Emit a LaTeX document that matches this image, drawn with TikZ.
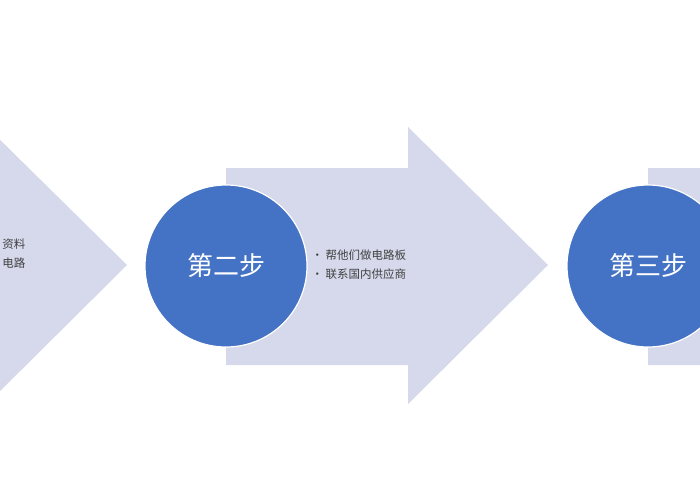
\documentclass[tikz,border=0pt]{standalone}
\usepackage{fontspec}
\setmainfont{Noto Sans CJK SC}
\begin{document}
\begin{tikzpicture}[x=1pt,y=-1pt,
  arr/.style={fill=arrowc,draw=none},
  circ/.style={circle,fill=circc,draw=white,line width=1.2pt,minimum size=162pt,text=white,font=\fontsize{26}{30}\selectfont},
  txt/.style={text=textc,font=\fontsize{11.5}{19}\selectfont,align=left}]
\definecolor{arrowc}{HTML}{D5D9EB}
\definecolor{circc}{HTML}{4472C4}
\definecolor{textc}{HTML}{404040}
\useasboundingbox (0,0) rectangle (700,500);
\clip (0,0) rectangle (700,500);
\fill[white] (0,0) rectangle (700,500);
% left arrow
\fill[arr] (-200,168) -- (-13,168) -- (-13,127) -- (127,265) -- (-13,404) -- (-13,365) -- (-200,365) -- cycle;
% middle arrow
\fill[arr] (226,168) -- (408,168) -- (408,127) -- (548,265) -- (408,404) -- (408,365) -- (226,365) -- cycle;
% right arrow
\fill[arr] (648,168) -- (830,168) -- (830,127) -- (970,265) -- (830,404) -- (830,365) -- (648,365) -- cycle;
\node[txt,anchor=east] (t1) at (29,254) {资料\\电路};
\node[circ] (c2) at (226,266) {第二步};
\node[txt,anchor=west] (t2) at (308,265) {• 帮他们做电路板\\• 联系国内供应商};
\node[circ] (c3) at (648,266) {第三步};
\end{tikzpicture}
\end{document}
